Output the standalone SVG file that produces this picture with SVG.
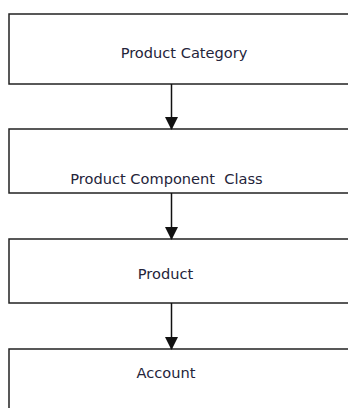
<svg xmlns="http://www.w3.org/2000/svg" width="348" height="408" viewBox="0 0 348 408">
<style>
.box{fill:#fff;stroke:#222;stroke-width:1.5}
.lbl{font-family:"DejaVu Sans",Verdana,sans-serif;font-size:14.6px;fill:#24243a;text-anchor:middle}
.conn{stroke:#111;stroke-width:1.5;fill:none;marker-end:url(#ah)}
</style>
<defs>
<marker id="ah" markerUnits="userSpaceOnUse" markerWidth="14" markerHeight="14" refX="12" refY="6.5" orient="auto">
<path d="M0,0 L13,6.5 L0,13 Z" fill="#111"/>
</marker>
</defs>
<rect width="348" height="408" fill="#fff"/>
<g id="node-product-category">
<rect class="box" x="9" y="14" width="345" height="70"/>
<text class="lbl" x="184" y="58">Product Category</text>
</g>
<g id="node-product-component-class">
<rect class="box" x="9" y="129" width="345" height="64"/>
<text class="lbl" x="166.5" y="184" xml:space="preserve">Product Component  Class</text>
</g>
<g id="node-product">
<rect class="box" x="9" y="239" width="345" height="64"/>
<text class="lbl" x="165.5" y="279">Product</text>
</g>
<g id="node-account">
<rect class="box" x="9" y="349" width="345" height="70"/>
<text class="lbl" x="166" y="378">Account</text>
</g>
<g id="connectors">
<line class="conn" x1="171.5" y1="84" x2="171.5" y2="129"/>
<line class="conn" x1="171.5" y1="193" x2="171.5" y2="239"/>
<line class="conn" x1="171.5" y1="303" x2="171.5" y2="349"/>
</g>
</svg>
